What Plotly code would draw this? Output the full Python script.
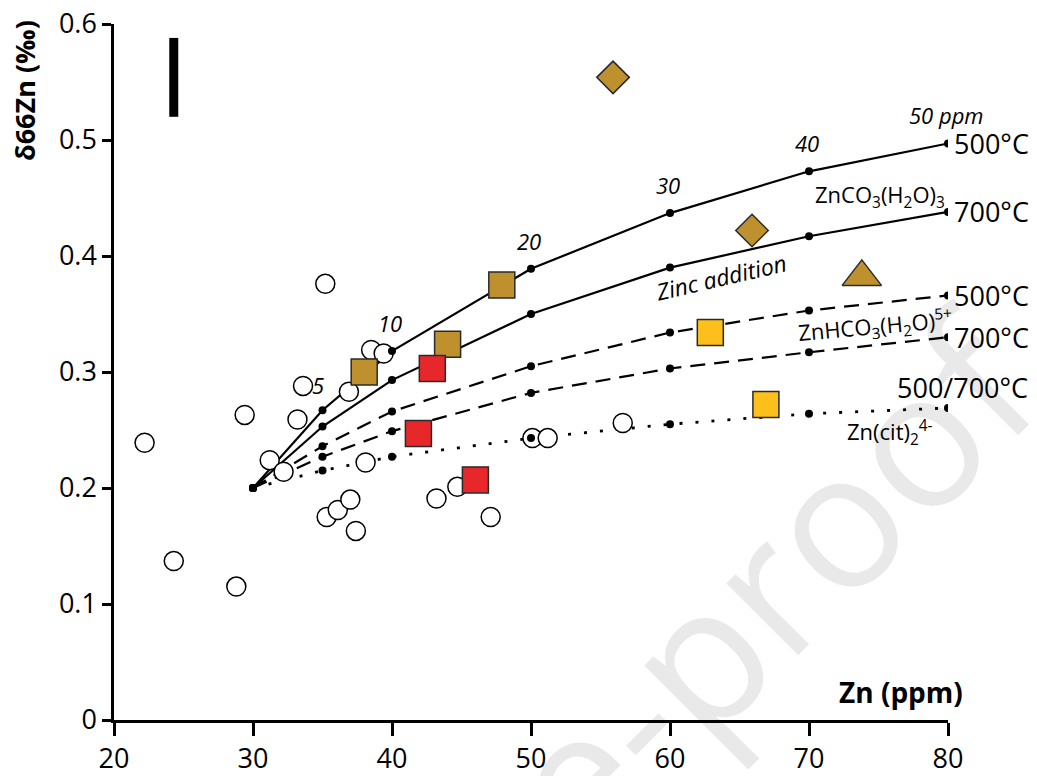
import plotly.graph_objects as go

# ---- data ----
curve_x = [30, 35, 40, 50, 60, 70, 80]
co3_500 = [0.200, 0.267, 0.318, 0.389, 0.437, 0.473, 0.497]
co3_700 = [0.200, 0.253, 0.293, 0.350, 0.390, 0.417, 0.438]
hco3_500 = [0.200, 0.236, 0.266, 0.305, 0.334, 0.353, 0.366]
hco3_700 = [0.200, 0.227, 0.249, 0.282, 0.303, 0.317, 0.330]
cit = [0.200, 0.215, 0.227, 0.243, 0.255, 0.264, 0.269]

addition_labels = ["5", "10", "20", "30", "40", "50 ppm"]

open_x = [22.2, 24.3, 28.8, 29.4, 31.2, 32.2, 33.2, 33.6, 35.2, 35.3, 36.1, 36.9, 37.0,
          37.4, 38.1, 38.5, 39.4, 43.2, 44.7, 47.1, 50.1, 51.2, 56.6]
open_y = [0.239, 0.137, 0.115, 0.263, 0.224, 0.214, 0.259, 0.288, 0.376, 0.175, 0.181,
          0.283, 0.190, 0.163, 0.222, 0.319, 0.316, 0.191, 0.201, 0.175, 0.243, 0.243, 0.256]

gold_sq_x = [38.0, 44.0, 47.9]
gold_sq_y = [0.300, 0.324, 0.375]
red_sq_x = [42.9, 41.9, 46.0]
red_sq_y = [0.303, 0.247, 0.207]
yellow_sq_x = [62.9, 66.9]
yellow_sq_y = [0.334, 0.272]
gold_dia_x = [55.9, 65.9]
gold_dia_y = [0.554, 0.422]
gold_tri_x = [73.8]
gold_tri_y = [0.382]

errbar_x = [24.3, 24.3]
errbar_y = [0.520, 0.588]

x_ticks = [20, 30, 40, 50, 60, 70, 80]
y_ticks = [0, 0.1, 0.2, 0.3, 0.4, 0.5, 0.6]
y_ticklabels = ["0", "0.1", "0.2", "0.3", "0.4", "0.5", "0.6"]

GOLD = "#BE912E"
RED = "#E8272A"
YELLOW = "#FDBF1B"
FONT = "Open Sans"

fig = go.Figure()


def add_curve(y, dash, width=2.2):
    fig.add_trace(go.Scatter(x=curve_x, y=y, mode="lines", line=dict(color="black", width=width, dash=dash),
                             hoverinfo="skip", showlegend=False))


add_curve(co3_500, "solid")
add_curve(co3_700, "solid")
add_curve(hco3_500, "15px,9px")
add_curve(hco3_700, "15px,9px")
add_curve(cit, "3px,13px", 2.8)

# open circles
fig.add_trace(go.Scatter(x=open_x, y=open_y, mode="markers",
                         marker=dict(symbol="circle", size=19, color="white", line=dict(color="black", width=1.5)),
                         showlegend=False))

# curve dots
for y in [co3_500, co3_700, hco3_500, hco3_700, cit]:
    fig.add_trace(go.Scatter(x=curve_x, y=y, mode="markers", marker=dict(size=8, color="black"),
                             showlegend=False))


def add_markers(x, y, sym, color, size):
    fig.add_trace(go.Scatter(x=x, y=y, mode="markers",
                             marker=dict(symbol=sym, size=size, color=color, line=dict(color="#2a2a2a", width=1.5)),
                             showlegend=False))


add_markers(gold_sq_x, gold_sq_y, "square", GOLD, 26)
add_markers(red_sq_x, red_sq_y, "square", RED, 26)
add_markers(yellow_sq_x, yellow_sq_y, "square", YELLOW, 26)
add_markers(gold_dia_x, gold_dia_y, "diamond", GOLD, 25)
add_markers(gold_tri_x, gold_tri_y, "triangle-up", GOLD, 34)

# error scale bar
fig.add_trace(go.Scatter(x=errbar_x, y=errbar_y, mode="lines", line=dict(color="black", width=9),
                         showlegend=False))

# watermark (semi-transparent so black marks stay black)
fig.add_annotation(x=0.409, y=-0.251, xref="paper", yref="paper", xanchor="center", yanchor="middle",
                   text="Journal Pre-proof", showarrow=False, textangle=-45,
                   font=dict(family=FONT, size=190, color="rgba(0,0,0,0.085)"))

# addition labels (italic)
for xv, yv, lab in zip(curve_x[1:], co3_500[1:], addition_labels):
    fig.add_annotation(x=xv, y=yv, text="<i>" + lab + "</i>", showarrow=False,
                       yshift=28 if lab != "5" else 25, xshift=-2 if lab != "5" else -5,
                       font=dict(family=FONT, size=22, color="black"))

# end labels
for yv, lab in [(co3_500[-1], "500°C"), (co3_700[-1], "700°C"), (hco3_500[-1], "500°C"),
                (hco3_700[-1], "700°C")]:
    fig.add_annotation(x=80, y=yv, text=lab, showarrow=False, xanchor="left", xshift=4,
                       font=dict(family=FONT, size=27, color="black"))
fig.add_annotation(x=80, y=cit[-1], text="500/700°C", showarrow=False, xanchor="right", xshift=82,
                   yshift=20, font=dict(family=FONT, size=27, color="black"))

fig.add_annotation(x=75.1, y=0.452, text="ZnCO<sub>3</sub>(H<sub>2</sub>O)<sub>3</sub>", showarrow=False,
                   font=dict(family=FONT, size=22, color="black"))
fig.add_annotation(x=74.8, y=0.339, text="ZnHCO<sub>3</sub>(H<sub>2</sub>O)<sup>5+</sup>", showarrow=False,
                   textangle=-5, font=dict(family=FONT, size=22, color="black"))
fig.add_annotation(x=75.8, y=0.248, text="Zn(cit)<sub>2</sub><sup>4-</sup>", showarrow=False,
                   font=dict(family=FONT, size=22, color="black"))
fig.add_annotation(x=63.7, y=0.382, text="<i>Zinc addition</i>", showarrow=False, textangle=-13,
                   font=dict(family=FONT, size=23, color="black"))

fig.add_annotation(x=80, y=0.0, text="<b>Zn (ppm)</b>", showarrow=False, xanchor="right", yanchor="middle",
                   yshift=28, xshift=17, font=dict(family=FONT, size=28, color="black"))

fig.add_annotation(x=-0.108, y=0.905, xref="paper", yref="paper", xanchor="center", yanchor="middle",
                   text="<b>δ66Zn (‰)</b>", showarrow=False,
                   textangle=-90, font=dict(family=FONT, size=27, color="black"))

fig.update_xaxes(range=[20, 80], tickvals=x_ticks, ticktext=[str(v) for v in x_ticks], automargin=False,
                 showgrid=False, zeroline=False, showline=True, linecolor="black", linewidth=2.5,
                 ticks="outside", ticklen=13, tickwidth=2.5, tickcolor="black",
                 tickfont=dict(family=FONT, size=27, color="black"))
fig.update_yaxes(range=[0, 0.6], tickvals=y_ticks, ticktext=y_ticklabels, automargin=False,
                 showgrid=False, zeroline=False, showline=True, linecolor="black", linewidth=2.5,
                 ticks="outside", ticklen=9, tickwidth=2.5, tickcolor="black",
                 tickfont=dict(family=FONT, size=27, color="black"))

fig.update_layout(width=1037, height=776, margin=dict(l=114, r=89, t=24, b=56),
                  plot_bgcolor="white", paper_bgcolor="white", showlegend=False)

fig.write_html("out.html")
